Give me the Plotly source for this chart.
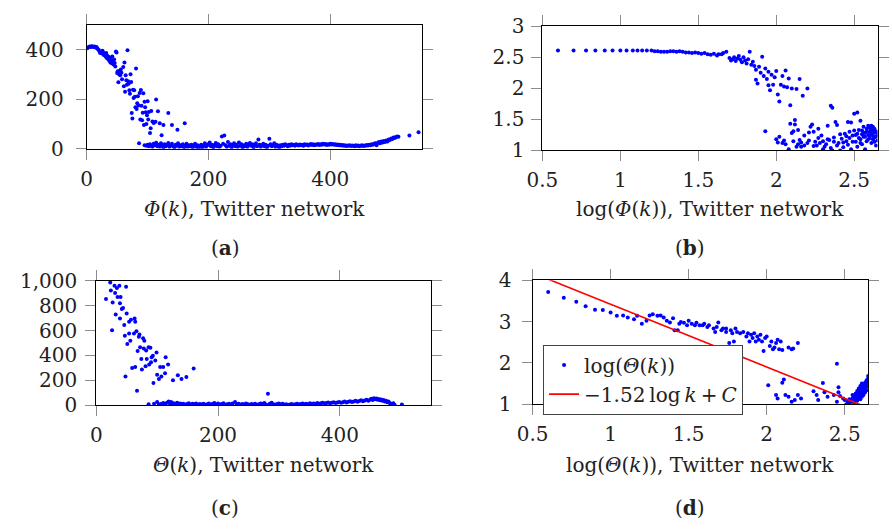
import plotly.graph_objects as go

# ---------------- Panel (a): Phi(k) ----------------
a_x = [1,2,4,5,6,8,9,10,12,13,14,16,17,18,20,21,22,24,25,26,27,28,30,31,32,33,34,35,36,37,38,39,40,41,42,43,44,45,46,47,48,49,
       50,51,52,53,54,55,56,57,58,60,61,62,63,64,65,66,67,68,69,70,71,72,73,74,75,76,77,78,79,80,81,82,83,84,85,86,87,88,89,90,
       91,92,93,94,95,96,97,98,99,100,101,102,104,105,106,108,110,113,114,117,120,123,126,134,140,149,161,
       95,98,100,102,104,106,108,110,112,114,116,118,120,122,124,126,128,130,132,134,136,138,140,142,144,146,148,150,152,154,156,
       158,160,162,164,166,168,170,172,174,176,178,180,182,184,186,188,190,192,194,196,198,200,202,204,206,208,210,212,214,216,218,
       220,222,224,226,228,230,232,234,236,238,240,242,244,246,248,250,252,254,256,258,260,262,264,266,268,270,272,274,276,278,280,
       282,284,286,288,290,292,294,296,298,300,302,304,306,308,310,312,314,316,318,320,322,324,326,328,330,332,334,336,338,340,342,
       344,346,348,350,352,354,356,358,360,362,364,366,368,370,372,374,376,378,380,382,384,386,388,390,392,394,396,398,400,402,404,
       406,408,410,412,414,416,418,420,422,424,426,428,430,432,434,436,438,440,442,444,446,448,450,452,454,456,458,460,462,464,466,
       468,470,472,474,476,478,480,482,484,486,488,490,492,494,496,498,500,502,504,506,508,510,512,530,545]
a_y = [405,408,410,412,410,413,411,412,410,412,408,410,406,402,398,392,386,391,384,395,388,378,380,372,386,366,375,362,370,355,368,348,358,345,372,352,340,360,346,332,392,388,
       305,312,268,300,314,296,320,306,280,330,252,348,230,296,276,258,397,272,262,236,222,300,269,144,122,238,205,236,210,168,324,160,184,212,175,22,225,118,237,174,
       115,145,224,96,190,167,147,100,135,192,118,148,64,83,152,110,104,109,199,151,103,55,96,144,96,77,103,
       14,12,16,10,18,12,8,20,14,25,10,16,8,22,12,6,18,10,15,24,8,14,20,10,6,16,12,22,8,14,10,
       18,6,12,20,8,14,10,16,6,12,20,8,14,4,10,16,6,12,22,8,14,18,26,10,16,6,14,24,10,18,8,
       12,50,20,54,14,8,28,12,18,6,14,22,10,16,8,26,12,18,6,14,10,20,8,16,24,12,18,6,14,22,10,
       38,16,8,14,20,10,16,6,12,41,18,10,14,22,8,16,12,6,14,10,16,12,18,14,10,16,12,18,14,16,12,
       18,15,13,17,14,16,12,18,15,17,13,16,19,15,18,14,17,16,19,15,18,16,20,17,19,15,18,16,20,17,19,
       16,18,15,17,14,16,13,15,12,14,11,13,12,14,11,13,12,10,14,11,13,10,12,14,11,13,12,15,13,16,14,
       18,16,20,22,14,24,28,22,30,26,32,28,34,30,38,36,42,40,46,44,48,50,49,54,67]

# ---------------- Panel (b): log(Phi(k)) ----------------
b_x = [0.60,0.70,0.78,0.84,0.90,0.95,1.00,1.04,1.08,1.11,1.14,1.17,1.20,1.22,1.24,1.26,1.28,1.30,1.32,1.34,1.36,1.38,1.40,1.42,
       1.44,1.46,1.48,1.50,1.52,1.54,1.56,1.58,1.60,1.62,1.63,1.65,1.66,1.68,
       1.70,1.71,1.72,1.73,1.74,1.75,1.76,1.77,1.78,1.79,1.80,1.81,1.82,1.83,1.84,1.85,1.86,1.87,1.87,1.88,1.89,1.90,1.91,1.92,
       1.93,1.94,1.95,1.95,1.96,1.97,1.98,1.99,2.00,2.01,2.02,2.03,2.04,2.05,2.06,2.07,2.08,2.09,2.10,2.13,2.17,2.15,2.20,
       1.93,2.00,2.01,2.02,2.04,2.05,2.08,2.09,2.10,2.11,2.12,2.12,2.13,2.14,2.15,2.16,2.18,2.20,2.21,2.22,2.23,2.24,2.25,2.26,
       2.27,2.28,2.29,2.30,2.31,2.32,2.33,2.34,2.35,2.35,2.36,2.37,2.38,2.39,2.40,2.41,2.42,2.43,2.44,2.45,2.46,2.46,2.47,2.48,
       2.48,2.49,2.50,2.51,2.52,2.52,2.53,2.54,2.54,2.55,2.55,2.56,2.56,2.57,2.57,2.58,2.58,2.59,2.59,2.60,2.60,2.60,2.61,2.61,
       2.61,2.62,2.62,2.62,2.63,2.63,2.63,2.64,2.64,2.64,2.65,2.65,2.58,2.59,2.60,2.61,2.62,2.63,2.57,2.56,2.55,2.54,2.53,2.52,
       2.51,2.50,2.49,2.47,2.45,2.43,2.41,2.39,2.37,2.36,2.33,2.30,2.27,2.24,2.21,2.18,2.16,2.14,2.11,2.06]
b_y = [2.61,2.61,2.61,2.61,2.61,2.61,2.61,2.61,2.61,2.61,2.61,2.61,2.61,2.60,2.60,2.59,2.59,2.59,2.60,2.60,2.59,2.60,2.59,2.58,
       2.58,2.57,2.58,2.57,2.56,2.57,2.55,2.54,2.56,2.53,2.55,2.55,2.57,2.59,
       2.49,2.45,2.47,2.50,2.44,2.48,2.52,2.46,2.42,2.50,2.45,2.40,2.47,2.59,2.38,2.43,2.36,2.30,2.14,2.08,2.35,2.25,2.51,2.20,
       2.32,2.15,2.05,2.27,1.97,2.22,2.06,2.18,2.28,1.90,1.79,2.06,2.20,2.03,2.29,2.02,2.16,1.73,2.00,1.99,1.88,2.15,2.00,
       1.31,1.18,1.13,1.22,1.12,1.16,1.02,1.43,1.28,1.31,1.49,1.42,1.06,1.10,1.17,1.06,1.08,1.12,1.29,1.38,1.42,1.30,1.14,1.08,
       1.35,1.12,1.24,1.02,1.06,1.10,1.40,1.17,1.04,1.72,1.69,1.14,1.46,1.41,1.12,1.00,1.19,1.05,1.27,1.15,1.46,1.09,1.20,1.02,
       1.45,1.14,1.59,1.25,1.61,1.06,1.33,1.18,1.48,1.10,1.32,1.22,1.38,1.02,1.28,1.15,1.35,1.25,1.40,1.20,1.30,1.36,1.12,1.27,
       1.33,1.18,1.24,1.38,1.14,1.29,1.35,1.08,1.22,1.31,1.16,1.26,1.30,1.18,1.24,1.40,1.32,1.21,1.22,1.29,1.26,1.12,1.20,1.27,
       1.14,1.32,1.24,1.30,1.23,1.13,1.26,1.08,1.21,1.00,1.18,1.15,1.20,1.07,1.16,1.24,1.13,1.33,1.15,1.10]

# ---------------- Panel (c): Theta(k) ----------------
c_x = [16,23,24,27,26,30,31,32,34,35,38,39,40,39,42,44,46,47,49,50,48,51,54,54,56,57,59,62,63,64,64,66,67,68,70,71,72,74,75,
       77,78,79,81,82,83,86,87,89,90,91,93,94,97,99,100,103,105,107,110,113,114,118,126,134,140,148,160,
       86,95,100,103,106,110,112,114,117,119,121,123,125,127,129,131,133,135,138,140,143,146,149,152,155,158,161,164,167,170,
       173,176,179,182,185,188,191,194,197,200,203,206,209,212,215,218,221,224,228,231,234,237,240,243,246,249,252,255,258,261,
       264,267,270,273,276,279,282,285,288,291,294,297,300,303,306,309,312,315,318,321,324,327,330,333,336,339,342,345,348,351,
       354,357,360,363,366,369,372,375,378,381,384,387,390,393,396,399,402,405,408,411,414,417,420,423,426,429,432,435,438,441,
       444,447,450,452,454,456,458,460,462,464,466,468,470,472,474,476,478,480,482,484,486,488,490,502]
c_y = [854,987,923,826,603,962,903,731,944,872,962,821,872,697,774,782,646,559,954,738,231,492,672,577,518,687,300,577,697,672,
       308,595,115,436,551,569,467,372,287,538,456,518,313,441,372,467,328,462,346,385,397,179,359,423,244,210,308,231,308,256,
       385,328,200,241,210,226,295,
       8,12,26,6,10,18,4,14,22,30,12,26,8,16,4,12,20,6,14,8,12,4,10,16,6,12,8,14,4,10,
       6,12,4,8,14,6,10,18,8,14,6,10,16,4,8,12,6,14,26,8,12,4,10,6,14,8,4,10,6,12,
       4,8,14,10,18,6,92,12,20,8,4,10,14,6,12,4,8,2,6,10,4,8,12,6,10,14,8,12,6,16,
       10,14,8,18,12,16,20,14,18,22,16,20,24,18,22,26,20,24,30,22,28,32,26,30,36,28,34,40,32,38,
       44,36,46,52,42,56,48,54,44,50,40,46,36,42,30,36,24,30,18,12,8,16,4,6]

# ---------------- Panel (d): log(Theta(k)) ----------------
d_x = [0.60,0.70,0.78,0.84,0.90,0.95,1.00,1.04,1.08,1.11,1.15,1.17,1.20,1.23,1.25,1.27,1.30,1.32,1.34,1.36,1.38,1.40,1.41,1.43,
       1.44,1.45,1.47,1.49,1.50,1.52,1.54,1.55,1.57,1.59,1.60,1.62,1.63,1.66,1.67,1.68,1.69,1.71,1.72,1.74,1.74,1.76,1.77,1.78,
       1.79,1.80,1.81,1.82,1.83,1.85,1.87,1.88,1.89,1.90,1.91,1.92,1.93,1.94,1.95,1.96,1.97,1.98,1.99,2.00,2.01,2.02,2.03,2.04,
       2.05,2.06,2.07,2.08,2.09,2.10,2.10,2.11,2.14,2.16,2.17,2.20,2.06,2.07,2.12,2.14,2.16,2.18,2.20,2.22,2.30,2.32,2.33,2.36,
       2.37,2.39,2.43,2.45,2.46,2.46,2.47,2.49,2.50,2.45,
       2.53,2.54,2.54,2.55,2.55,2.56,2.56,2.56,2.57,2.57,2.57,2.58,2.58,2.58,2.58,2.59,2.59,2.59,2.59,2.60,2.60,2.60,2.60,2.60,
       2.61,2.61,2.61,2.61,2.61,2.62,2.62,2.62,2.62,2.63,2.63,2.63,2.63,2.64,2.64,2.64,2.64,2.65,2.65,2.65,2.65,2.52,2.51,2.53,2.55]
d_y = [3.72,3.58,3.48,3.37,3.29,3.28,3.22,3.14,3.15,3.10,3.06,3.14,2.95,3.02,3.15,3.18,3.14,3.15,3.10,3.02,2.98,3.08,2.79,2.79,
       2.95,2.99,2.97,2.91,3.02,2.95,2.91,2.97,2.91,2.91,2.95,2.87,2.91,2.83,2.75,2.87,2.98,2.79,2.83,2.75,2.83,2.48,2.79,2.72,
       2.52,2.83,2.75,2.08,2.72,2.75,2.64,2.72,2.52,2.68,2.60,2.72,2.52,2.64,2.56,2.68,2.52,2.29,2.60,2.64,1.46,2.41,2.52,2.33,
       2.37,2.48,2.56,2.33,2.52,2.31,1.52,1.60,2.37,2.33,2.35,2.48,1.22,1.14,1.22,1.18,1.06,1.10,1.22,1.14,1.31,1.22,1.10,1.51,
       1.29,1.18,1.22,1.98,1.41,1.29,1.20,1.14,1.10,1.06,
       1.02,1.05,1.10,1.08,1.14,1.04,1.12,1.20,1.10,1.18,1.26,1.08,1.16,1.24,1.32,1.14,1.22,1.30,1.38,1.12,1.20,1.28,1.36,1.44,
       1.18,1.26,1.34,1.42,1.50,1.22,1.30,1.38,1.46,1.28,1.36,1.44,1.52,1.34,1.42,1.50,1.58,1.46,1.55,1.62,1.68,1.06,1.00,1.12,1.22]

# fitted line  -1.52 log k + C
fit_slope = -1.52
fit_C = 4.94
fit_x = [0.5, 2.65]
fit_y = [fit_slope * v + fit_C for v in fit_x]

# tick values
a_xticks = [0, 200, 400]
a_yticks = [0, 200, 400]
b_xticks = [0.5, 1, 1.5, 2, 2.5]
b_yticks = [1, 1.5, 2, 2.5, 3]
c_xticks = [0, 200, 400]
c_yticks = [0, 200, 400, 600, 800, 1000]
d_xticks = [0.5, 1, 1.5, 2, 2.5]
d_yticks = [1, 2, 3, 4]

W, H = 892, 532
FONT = "DejaVu Serif"
FS = 20
BLUE = "#0000ff"
THIN = "\u2009"

def px_x(x0, x1):
    return [x0 / W, x1 / W]

def px_y(top, bottom):
    return [1 - bottom / H, 1 - top / H]

fig = go.Figure()
mk = dict(color=BLUE, size=4, line=dict(width=0))
fig.add_trace(go.Scatter(x=a_x, y=a_y, mode="markers", marker=mk, xaxis="x", yaxis="y", showlegend=False))
fig.add_trace(go.Scatter(x=b_x, y=b_y, mode="markers", marker=mk, xaxis="x2", yaxis="y2", showlegend=False))
fig.add_trace(go.Scatter(x=c_x, y=c_y, mode="markers", marker=mk, xaxis="x3", yaxis="y3", showlegend=False))
fig.add_trace(go.Scatter(x=d_x, y=d_y, mode="markers", marker=mk, xaxis="x4", yaxis="y4",
                         name="log(<i>Θ</i>(<i>k</i>))"))
fig.add_trace(go.Scatter(x=fit_x, y=fit_y, mode="lines", line=dict(color="#ff0000", width=1.6),
                         xaxis="x4", yaxis="y4",
                         name="−1.52" + THIN + "log" + THIN + "<i>k</i>" + THIN + "+" + THIN + "<i>C</i>"))

def ax(domain, rng, tickvals, anchor, standoff, fmt=None):
    d = dict(domain=domain, range=rng, tickvals=tickvals, anchor=anchor,
             showline=True, linecolor="black", linewidth=1, mirror="ticks",
             ticks="outside", ticklen=10, tickcolor="#8c8c8c", tickwidth=1,
             ticklabelstandoff=standoff,
             showgrid=False, zeroline=False, tickfont=dict(family=FONT, size=FS, color="#222"))
    if fmt:
        d["tickformat"] = fmt
    return d

panels = {
    "a": dict(x=(72, 413), y=(13.3, 143.3)),
    "b": dict(x=(536, 877.3), y=(15, 145)),
    "c": dict(x=(81.7, 422.7), y=(281.7, 411.7)),
    "d": dict(x=(526, 867.7), y=(281, 410.7)),
}

fig.update_layout(
    width=W, height=H, autosize=False,
    margin=dict(l=0, r=0, t=0, b=0),
    paper_bgcolor="white", plot_bgcolor="white",
    font=dict(family=FONT, size=FS, color="#222"),
    xaxis=ax(px_x(*panels["a"]["x"]), [0, 550], a_xticks, "y", 2),
    yaxis=ax(px_y(*panels["a"]["y"]), [0, 500], a_yticks, "x", 8),
    xaxis2=ax(px_x(*panels["b"]["x"]), [0.5, 2.65], b_xticks, "y2", 2),
    yaxis2=ax(px_y(*panels["b"]["y"]), [1, 3], b_yticks, "x2", 3),
    xaxis3=ax(px_x(*panels["c"]["x"]), [0, 550], c_xticks, "y3", 2),
    yaxis3=ax(px_y(*panels["c"]["y"]), [0, 1000], c_yticks, "x3", 4, fmt=","),
    xaxis4=ax(px_x(*panels["d"]["x"]), [0.5, 2.65], d_xticks, "y4", 2),
    yaxis4=ax(px_y(*panels["d"]["y"]), [1, 4], d_yticks, "x4", 6),
    legend=dict(x=536.7 / W, y=1 - 348.3 / H, xanchor="left", yanchor="top",
                bgcolor="white", bordercolor="#444", borderwidth=1, tracegroupgap=0,
                font=dict(family=FONT, size=FS, color="#222")),
)

def ann(text, xpx, ypx):
    fig.add_annotation(text=text, x=xpx / W, y=1 - ypx / H, xref="paper", yref="paper",
                       showarrow=False, xanchor="center", yanchor="middle",
                       font=dict(family=FONT, size=FS, color="#222"))

ann("<i>Φ</i>(<i>k</i>), Twitter network", 242.5, 206)
ann("log(<i>Φ</i>(<i>k</i>)), Twitter network", 706.6, 206)
ann("<i>Θ</i>(<i>k</i>), Twitter network", 252, 474)
ann("log(<i>Θ</i>(<i>k</i>)), Twitter network", 697, 474)
ann("(<b>a</b>)", 213, 247)
ann("(<b>b</b>)", 686, 247)
ann("(<b>c</b>)", 213, 519)
ann("(<b>d</b>)", 686, 519)

fig.write_html("out.html", config={"displayModeBar": False})
